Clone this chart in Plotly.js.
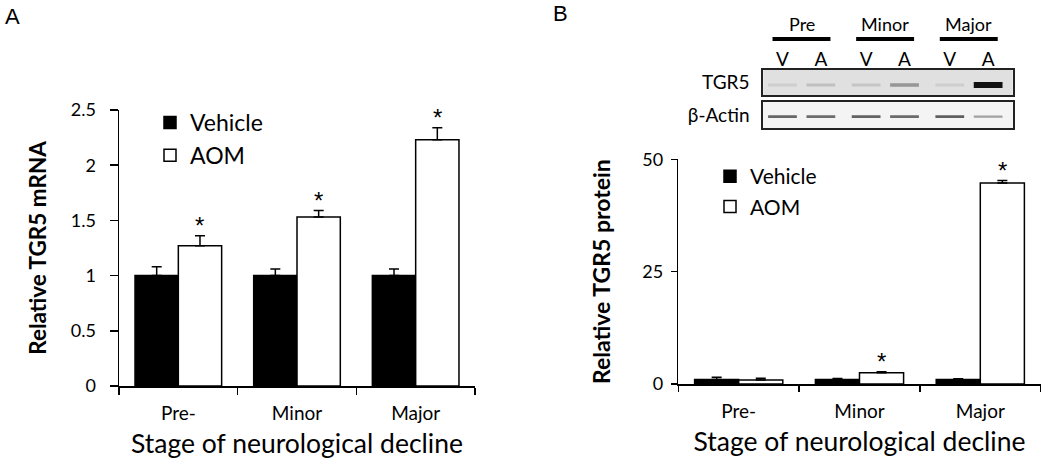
<!DOCTYPE html>
<html>
<head>
<meta charset="utf-8">
<script src="https://cdn.plot.ly/plotly-3.0.1.min.js"></script>
<style>html,body{margin:0;padding:0;background:#fff;}#chart{width:1050px;height:463px;}</style>
</head>
<body>
<div id="chart"></div>
<script>
// ---- Data ----
const categories = ["Pre-", "Minor", "Major"];
const seriesNames = ["Vehicle", "AOM"];

// Panel A: Relative TGR5 mRNA
const mrnaVehicle = [1.0, 1.0, 1.0];
const mrnaVehicleErr = [0.08, 0.06, 0.06];
const mrnaAOM = [1.27, 1.53, 2.23];
const mrnaAOMErr = [0.09, 0.06, 0.11];
const mrnaSig = ["*", "*", "*"];

// Panel B: Relative TGR5 protein
const protVehicle = [1.0, 1.0, 1.0];
const protVehicleErr = [0.5, 0.2, 0.15];
const protAOM = [0.9, 2.5, 44.7];
const protAOMErr = [0.4, 0.2, 0.6];
const protSig = ["", "*", "*"];

const yTicksA = [0, 0.5, 1, 1.5, 2, 2.5];
const yTickTextA = ["0", "0.5", "1", "1.5", "2", "2.5"];
const yTicksB = [0, 25, 50];

// Western blot (band darkness 0..1)
const blotGroups = ["Pre", "Minor", "Major"];
const laneLabels = ["V", "A", "V", "A", "V", "A"];
const tgr5Bands = [0.08, 0.15, 0.12, 0.35, 0.08, 1.0];
const actinBands = [0.58, 0.55, 0.6, 0.56, 0.62, 0.3];
const blotRows = ["TGR5", "β-Actin"];

// ---- Build ----
const FONT = "Lato, 'Open Sans', sans-serif";
const lanePos = laneLabels.map((_, i) => i + 0.18 * Math.floor(i / 2));
const bargap = 0.27;
const half = (1 - bargap) / 4; // offset of each bar center in a group of 2

function barTrace(name, y, err, color, xa, ya, legend, showlegend) {
  return {
    type: "bar", name: name, x: categories, y: y,
    xaxis: xa, yaxis: ya, legend: legend, showlegend: showlegend,
    marker: {color: color, line: {color: "#000", width: 1.5}},
    error_y: {type: "data", symmetric: false, array: err,
      arrayminus: err.map(() => 0), color: "#000", thickness: 1.5, width: 5},
    hoverinfo: "skip"
  };
}

function shade(v) {
  const g = Math.round(222 - v * 205);
  return "rgb(" + g + "," + g + "," + g + ")";
}

const traces = [
  barTrace(seriesNames[0], mrnaVehicle, mrnaVehicleErr, "#000", "x", "y", "legend", true),
  barTrace(seriesNames[1], mrnaAOM, mrnaAOMErr, "#fff", "x", "y", "legend", true),
  barTrace(seriesNames[0], protVehicle, protVehicleErr, "#000", "x2", "y2", "legend2", true),
  barTrace(seriesNames[1], protAOM, protAOMErr, "#fff", "x2", "y2", "legend2", true),
  {
    type: "bar", x: lanePos, y: tgr5Bands.map(v => 0.1 + 0.14 * v),
    base: tgr5Bands.map(v => 0.4 - (0.1 + 0.14 * v) / 2),
    width: 0.75, xaxis: "x3", yaxis: "y3", showlegend: false, hoverinfo: "skip",
    marker: {color: tgr5Bands.map(shade), line: {width: 0}}
  },
  {
    type: "bar", x: lanePos, y: actinBands.map(v => 0.07 + 0.06 * v),
    base: actinBands.map(v => 0.44 - (0.07 + 0.06 * v) / 2),
    width: 0.75, xaxis: "x4", yaxis: "y4", showlegend: false, hoverinfo: "skip",
    marker: {color: actinBands.map(shade), line: {width: 0}}
  }
];

const annotations = [];
function stars(sig, top, xa, ya) {
  sig.forEach((s, i) => {
    if (!s) return;
    annotations.push({xref: xa, yref: ya, x: i + half, y: top[i], text: s,
      showarrow: false, yanchor: "middle", yshift: 10,
      font: {family: "Liberation Sans, Arial, sans-serif", size: 24, color: "#000"}});
  });
}
stars(mrnaSig, mrnaAOM.map((v, i) => v + mrnaAOMErr[i]), "x", "y");
stars(protSig, protAOM.map((v, i) => v + protAOMErr[i]), "x2", "y2");

annotations.push({xref: "paper", yref: "paper", x: 12 / 1050, y: 1 - 17 / 463, text: "A",
  showarrow: false, xanchor: "center", yanchor: "middle",
  font: {family: "Liberation Sans, Arial, sans-serif", size: 22, color: "#000"}});
annotations.push({xref: "paper", yref: "paper", x: 560 / 1050, y: 1 - 13 / 463, text: "B",
  showarrow: false, xanchor: "center", yanchor: "middle",
  font: {family: "Liberation Sans, Arial, sans-serif", size: 22, color: "#000"}});

const shapes = [];
blotGroups.forEach((g, k) => {
  const a = lanePos[2 * k], b = lanePos[2 * k + 1];
  annotations.push({xref: "x3", yref: "paper", x: (a + b) / 2, y: 1 - 24 / 463, text: g,
    showarrow: false, xanchor: "center", yanchor: "middle",
    font: {family: FONT, size: 18, color: "#000"}});
  shapes.push({type: "line", xref: "x3", yref: "paper", x0: a - 0.26, x1: b + 0.25,
    y0: 1 - 39 / 463, y1: 1 - 39 / 463, line: {color: "#000", width: 4}});
});
// blot backgrounds
shapes.push({type: "rect", xref: "x3 domain", yref: "y3 domain", x0: 0, x1: 1, y0: 0, y1: 1,
  fillcolor: "#e0e0e0", line: {width: 0}, layer: "below"});
shapes.push({type: "rect", xref: "x4 domain", yref: "y4 domain", x0: 0, x1: 1, y0: 0, y1: 1,
  fillcolor: "#f4f4f4", line: {width: 0}, layer: "below"});

const axisBase = {
  showline: true, linecolor: "#000", linewidth: 1.5, showgrid: false, zeroline: false,
  ticks: "outside", tickcolor: "#000", tickwidth: 1.5,
  tickfont: {family: FONT, size: 18, color: "#000"}
};

const blotX = {showline: true, mirror: true, linecolor: "#222", linewidth: 2, showgrid: false,
  zeroline: false, range: [-0.5, 6.0], ticks: "", fixedrange: true};
const blotY = {showline: true, mirror: true, linecolor: "#222", linewidth: 2, showgrid: false,
  zeroline: false, range: [0, 1], ticks: "", tickvals: [0.5], ticklabelstandoff: 8,
  tickfont: {family: FONT, size: 19, color: "#000"}};

const layout = {
  width: 1050, height: 463,
  margin: {l: 0, r: 0, t: 0, b: 0},
  paper_bgcolor: "#fff", plot_bgcolor: "rgba(0,0,0,0)",
  barmode: "group", bargap: bargap, bargroupgap: 0,
  font: {family: FONT, color: "#000"},
  xaxis: Object.assign({}, axisBase, {
    domain: [119 / 1050, 475 / 1050], anchor: "y", type: "category",
    range: [-0.5, 2.5], tickson: "boundaries", ticklen: 7, ticklabelstandoff: 10,
    tickfont: {family: FONT, size: 19, color: "#000"},
    title: {text: "Stage of neurological decline", font: {family: FONT, size: 26.5, color: "#000"}, standoff: 11}
  }),
  yaxis: Object.assign({}, axisBase, {
    domain: [1 - 386 / 463, 1 - 110 / 463], anchor: "x", range: [0, 2.5],
    tickvals: yTicksA, ticktext: yTickTextA, ticklen: 8, ticklabelstandoff: 10,
    title: {text: "<b>Relative TGR5 mRNA</b>", font: {family: FONT, size: 22.5, color: "#000"}, standoff: 18}
  }),
  xaxis2: Object.assign({}, axisBase, {
    domain: [678.3 / 1050, 1040.7 / 1050], anchor: "y2", type: "category",
    range: [-0.5, 2.5], tickson: "boundaries", ticklen: 6, ticklabelstandoff: 10,
    tickfont: {family: FONT, size: 19, color: "#000"},
    title: {text: "Stage of neurological decline", font: {family: FONT, size: 26.5, color: "#000"}, standoff: 11}
  }),
  yaxis2: Object.assign({}, axisBase, {
    domain: [1 - 384 / 463, 1 - 159.3 / 463], anchor: "x2", range: [0, 50],
    tickvals: yTicksB, ticklen: 6, ticklabelstandoff: 4,
    title: {text: "<b>Relative TGR5 protein</b>", font: {family: FONT, size: 23, color: "#000"}, standoff: 25}
  }),
  xaxis3: Object.assign({}, blotX, {
    domain: [763.3 / 1050, 1012.7 / 1050], anchor: "y3", side: "top",
    tickvals: lanePos, ticktext: laneLabels, ticklabelstandoff: -6,
    tickfont: {family: FONT, size: 19, color: "#000"}
  }),
  yaxis3: Object.assign({}, blotY, {
    domain: [1 - 95 / 463, 1 - 70 / 463], anchor: "x3", ticktext: [blotRows[0]]
  }),
  xaxis4: Object.assign({}, blotX, {
    domain: [763.3 / 1050, 1012.7 / 1050], anchor: "y4", showticklabels: false
  }),
  yaxis4: Object.assign({}, blotY, {
    domain: [1 - 128.3 / 463, 1 - 101.7 / 463], anchor: "x4", ticktext: [blotRows[1]]
  }),
  legend: {x: 150 / 1050, y: 1 - 101 / 463, xanchor: "left", yanchor: "top",
    bgcolor: "rgba(0,0,0,0)", font: {family: FONT, size: 23, color: "#000"}, itemclick: false},
  legend2: {x: 710 / 1050, y: 1 - 156 / 463, xanchor: "left", yanchor: "top",
    bgcolor: "rgba(0,0,0,0)", font: {family: FONT, size: 21, color: "#000"}, itemclick: false},
  annotations: annotations,
  shapes: shapes
};

Plotly.newPlot("chart", traces, layout, {displayModeBar: false, staticPlot: true});
</script>
</body>
</html>
